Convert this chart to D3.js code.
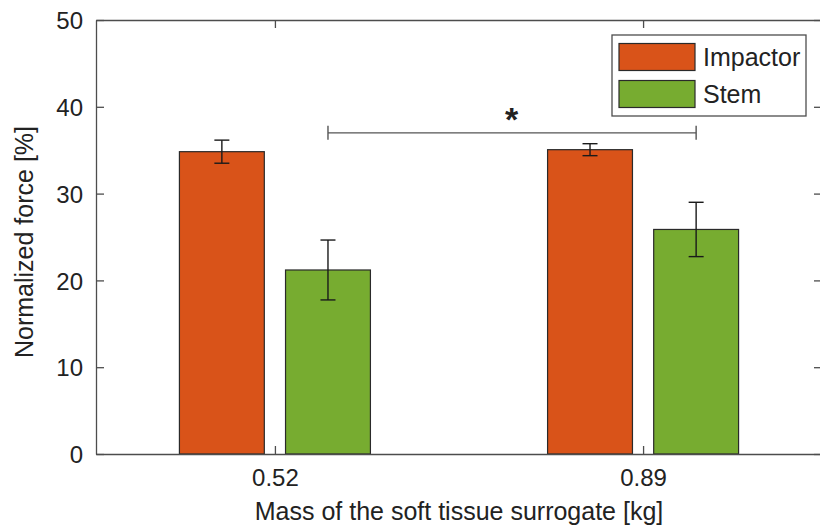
<!DOCTYPE html>
<html>
<head>
<meta charset="utf-8">
<script src="https://cdn.jsdelivr.net/npm/d3@7"></script>
<style>
  body { margin: 0; background: #fff; }
  svg text { font-family: "Liberation Sans", Arial, sans-serif; fill: #222; }
</style>
</head>
<body>
<div id="chart"></div>
<script>
var masses = ["0.52", "0.89"];
var seriesNames = ["Impactor", "Stem"];
var impactorMean = [34.83, 35.06];
var impactorErr = [1.33, 0.69];
var stemMean = [21.2, 25.87];
var stemErr = [3.45, 3.13];
var yTicks = [0, 10, 20, 30, 40, 50];

var colors = { Impactor: "#D95319", Stem: "#77AC30" };

var width = 820;
var height = 527;
var margin = { left: 96, top: 20, right: -2, bottom: 73 };

var svg = d3
  .select("#chart")
  .append("svg")
  .attr("width", width)
  .attr("height", height);

var x0 = d3
  .scalePoint()
  .domain(masses)
  .range([margin.left, width - margin.right])
  .padding(0.486);

var x1 = d3
  .scaleBand()
  .domain(seriesNames)
  .range([-95.5, 95.5])
  .paddingInner(0.2);

var y = d3
  .scaleLinear()
  .domain([0, 50])
  .range([height - margin.bottom, margin.top]);

var rows = [];
masses.forEach(function(m, i) {
  rows.push({ mass: m, series: "Impactor", mean: impactorMean[i], err: impactorErr[i] });
  rows.push({ mass: m, series: "Stem", mean: stemMean[i], err: stemErr[i] });
});

// bars
svg
  .append("g")
  .selectAll("rect")
  .data(rows)
  .enter()
  .append("rect")
  .attr("x", function(d) {
    return x0(d.mass) + x1(d.series);
  })
  .attr("y", function(d) {
    return y(d.mean);
  })
  .attr("width", x1.bandwidth())
  .attr("height", function(d) {
    return y(0) - y(d.mean);
  })
  .attr("fill", function(d) {
    return colors[d.series];
  })
  .attr("stroke", "#2a2a2a")
  .attr("stroke-width", 1.2);

// error bars
var errG = svg
  .append("g")
  .attr("stroke", "#1a1a1a")
  .attr("stroke-width", 1.4)
  .selectAll("g")
  .data(rows)
  .enter()
  .append("g")
  .attr("transform", function(d) {
    return "translate(" + (x0(d.mass) + x1(d.series) + x1.bandwidth() / 2) + ",0)";
  });
errG
  .append("line")
  .attr("y1", function(d) { return y(d.mean + d.err); })
  .attr("y2", function(d) { return y(d.mean - d.err); });
errG
  .append("line")
  .attr("x1", -7.5)
  .attr("x2", 7.5)
  .attr("y1", function(d) { return y(d.mean + d.err); })
  .attr("y2", function(d) { return y(d.mean + d.err); });
errG
  .append("line")
  .attr("x1", -7.5)
  .attr("x2", 7.5)
  .attr("y1", function(d) { return y(d.mean - d.err); })
  .attr("y2", function(d) { return y(d.mean - d.err); });

// axes box
var axisColor = "#4d4d4d";
var yAxis = svg
  .append("g")
  .attr("transform", "translate(" + margin.left + ",0)")
  .call(d3.axisLeft(y).tickValues(yTicks).tickSizeInner(-8).tickSizeOuter(0).tickPadding(13));
var yAxisR = svg
  .append("g")
  .attr("transform", "translate(" + (width - margin.right) + ",0)")
  .call(d3.axisRight(y).tickValues(yTicks).tickSizeInner(-8).tickSizeOuter(0).tickFormat(""));
var xAxis = svg
  .append("g")
  .attr("transform", "translate(0," + y(0) + ")")
  .call(d3.axisBottom(x0).tickSizeInner(-8).tickSizeOuter(0).tickPadding(15));
var xAxisT = svg
  .append("g")
  .attr("transform", "translate(0," + y(50) + ")")
  .call(d3.axisTop(x0).tickSizeInner(-8).tickSizeOuter(0).tickFormat(""));

[yAxis, yAxisR, xAxis, xAxisT].forEach(function(a) {
  a.selectAll("path, line").attr("stroke", axisColor).attr("stroke-width", 1.3);
  a.selectAll("text")
    .attr("font-size", 24)
    .attr("font-family", "Liberation Sans, Arial, sans-serif")
    .attr("fill", "#222");
});
yAxis.selectAll("text").attr("dy", "0.36em");

// axis titles
svg
  .append("text")
  .attr("x", 459)
  .attr("y", 520)
  .attr("text-anchor", "middle")
  .attr("font-size", 25)
  .text("Mass of the soft tissue surrogate [kg]");
svg
  .append("text")
  .attr("transform", "translate(33," + (y(25) + 5) + ") rotate(-90)")
  .attr("text-anchor", "middle")
  .attr("font-size", 25)
  .text("Normalized force [%]");

// significance bracket between the two stem bars
var sxA = x0(masses[0]) + x1("Stem") + x1.bandwidth() / 2;
var sxB = x0(masses[1]) + x1("Stem") + x1.bandwidth() / 2;
var sy = y(37.0);
var sig = svg.append("g").attr("stroke", "#555").attr("stroke-width", 1.4);
sig.append("line").attr("x1", sxA).attr("x2", sxB).attr("y1", sy).attr("y2", sy);
sig.append("line").attr("x1", sxA).attr("x2", sxA).attr("y1", sy - 7).attr("y2", sy + 7);
sig.append("line").attr("x1", sxB).attr("x2", sxB).attr("y1", sy - 7).attr("y2", sy + 7);
svg
  .append("text")
  .attr("x", (sxA + sxB) / 2 - 0.5)
  .attr("y", sy - 2)
  .attr("text-anchor", "middle")
  .attr("font-size", 34)
  .attr("font-weight", "bold")
  .text("*");

// legend
var legend = svg.append("g").attr("transform", "translate(612,35)");
legend
  .append("rect")
  .attr("width", 194)
  .attr("height", 81)
  .attr("fill", "#fff")
  .attr("stroke", axisColor)
  .attr("stroke-width", 1.3);
var legendItem = legend
  .selectAll("g")
  .data(seriesNames)
  .enter()
  .append("g")
  .attr("transform", function(d, i) {
    return "translate(7," + (8.5 + i * 37) + ")";
  });
legendItem
  .append("rect")
  .attr("width", 76)
  .attr("height", 27)
  .attr("fill", function(d) { return colors[d]; })
  .attr("stroke", "#2a2a2a")
  .attr("stroke-width", 1.2);
legendItem
  .append("text")
  .attr("x", 84)
  .attr("y", 22)
  .attr("font-size", 25)
  .text(function(d) { return d; });
</script>
</body>
</html>
